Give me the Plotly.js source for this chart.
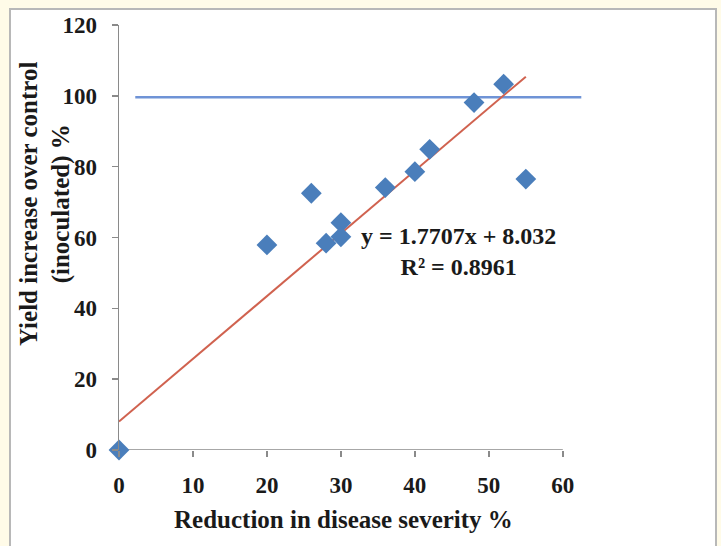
<!DOCTYPE html>
<html>
<head>
<meta charset="utf-8">
<script src="https://cdn.plot.ly/plotly-3.0.1.min.js"></script>
<style>
  html, body { margin: 0; padding: 0; background: #fffbe8; }
  #chart { width: 721px; height: 546px; }
</style>
</head>
<body>
<div id="chart"></div>
<script>
// Data
const reductionSeverity = [0, 20, 26, 28, 30, 30, 36, 40, 42, 48, 52, 55];
const yieldIncrease     = [0, 57.9, 72.5, 58.4, 64.2, 60.2, 74.1, 78.6, 84.9, 98.1, 103.3, 76.5];
// Linear trendline (y = 1.7707x + 8.032) end points
const trendX = [0, 55];
const trendY = [8.03, 105.42];
// Horizontal reference line
const refX = [2.2, 62.5];
const refY = [99.6, 99.6];
// Axis ticks
const xTicks = [0, 10, 20, 30, 40, 50, 60];
const yTicks = [0, 20, 40, 60, 80, 100, 120];
const xAxisLineX = [0, 60];
const xAxisLineY = [0, 0];

const serif = "Liberation Serif, Times New Roman, serif";
const axisGray = "#8a8a8a";

const traces = [
  {
    x: xAxisLineX, y: xAxisLineY, mode: "lines", type: "scatter",
    line: { color: axisGray, width: 1.5 }, hoverinfo: "skip", showlegend: false
  },
  {
    x: refX, y: refY, mode: "lines", type: "scatter",
    line: { color: "#6f93d6", width: 2.5 }, showlegend: false
  },
  {
    x: trendX, y: trendY, mode: "lines", type: "scatter",
    line: { color: "#d0624f", width: 2 }, showlegend: false
  },
  {
    x: reductionSeverity, y: yieldIncrease, mode: "markers", type: "scatter",
    marker: { symbol: "diamond", size: 16, color: "#4a7ebb", line: { width: 0 } },
    cliponaxis: false, showlegend: false
  }
];

const layout = {
  width: 721, height: 546,
  margin: { l: 119, r: 136, t: 25, b: 96, pad: 0 },
  paper_bgcolor: "#fffbe8",
  plot_bgcolor: "rgba(0,0,0,0)",
  showlegend: false,
  xaxis: {
    range: [0, 63], tickvals: xTicks, ticktext: xTicks.map(String),
    showgrid: false, zeroline: false, showline: false,
    ticks: "outside", ticklen: 6, tickcolor: axisGray, tickwidth: 1.5,
    ticklabelstandoff: 8,
    tickfont: { family: serif, size: 23, color: "#1a1a1a", weight: "bold" }
  },
  yaxis: {
    range: [0, 120], tickvals: yTicks, ticktext: yTicks.map(String),
    showgrid: false, zeroline: false, showline: true, linecolor: axisGray, linewidth: 1.5,
    ticks: "outside", ticklen: 6, tickcolor: axisGray, tickwidth: 1.5,
    ticklabelstandoff: 10,
    tickfont: { family: serif, size: 23, color: "#1a1a1a", weight: "bold" }
  },
  shapes: [
    {
      type: "rect", xref: "paper", yref: "paper", layer: "below",
      x0: -0.2339, x1: 1.2811, y0: -0.3, y1: 1.0376,
      fillcolor: "#ffffff", line: { color: "#b8b8b8", width: 2 }
    }
  ],
  annotations: [
    {
      xref: "paper", yref: "paper", x: 0.4818, y: -0.1647,
      xanchor: "center", yanchor: "middle", showarrow: false,
      text: "Reduction in disease severity %",
      font: { family: serif, size: 25, color: "#1a1a1a", weight: "bold" }
    },
    {
      xref: "paper", yref: "paper", x: -0.1588, y: 0.5788,
      xanchor: "center", yanchor: "middle", showarrow: false, textangle: -90,
      text: "Yield increase over control<br>(inoculated) %",
      font: { family: serif, size: 25, color: "#1a1a1a", weight: "bold" }
    },
    {
      xref: "paper", yref: "paper", x: (458 - 119) / 466, y: (450 - 251.5) / 425,
      xanchor: "center", yanchor: "middle", showarrow: false, align: "center",
      text: "y = 1.7707x + 8.032<br>R² = 0.8961",
      font: { family: serif, size: 24, color: "#1a1a1a", weight: "bold" }
    }
  ]
};

Plotly.newPlot("chart", traces, layout, { displayModeBar: false, staticPlot: true });
</script>
</body>
</html>
